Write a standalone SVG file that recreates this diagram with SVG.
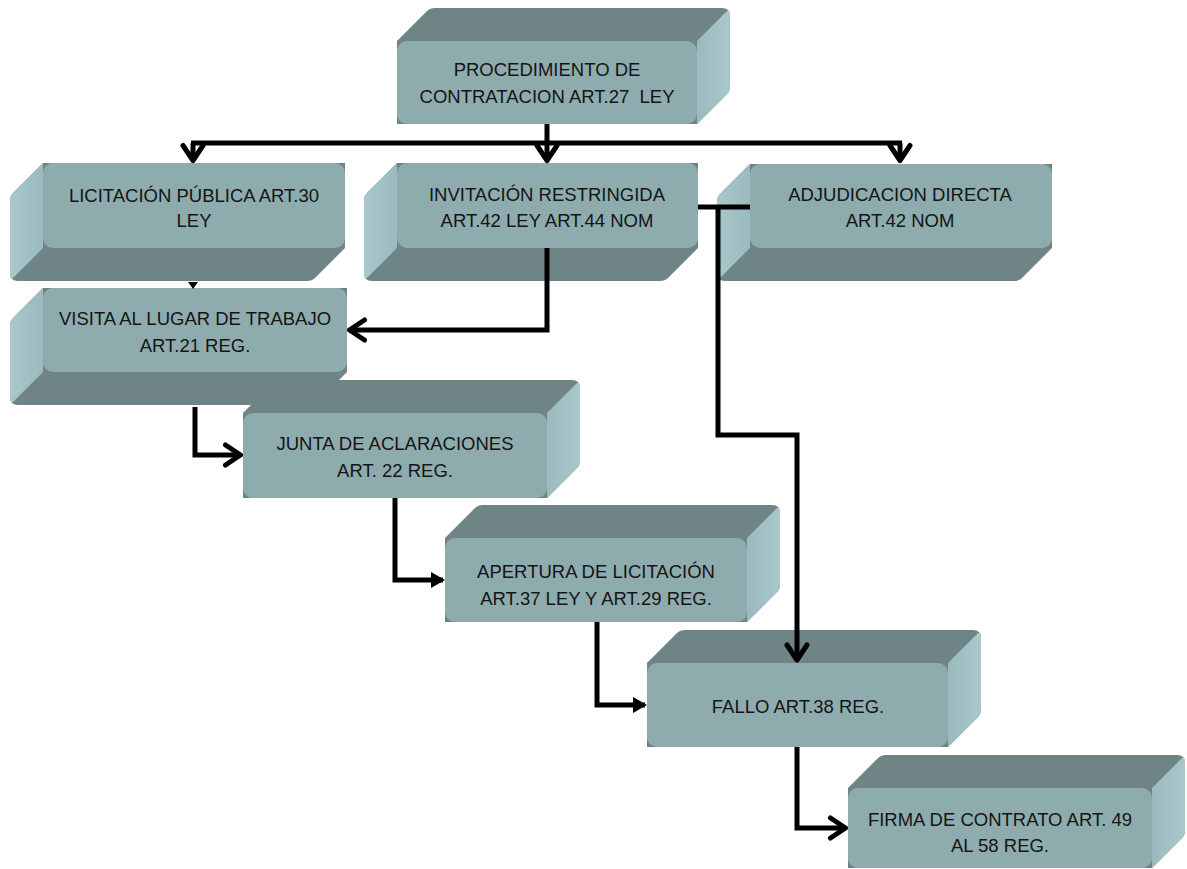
<svg xmlns="http://www.w3.org/2000/svg" width="1187" height="869" viewBox="0 0 1187 869">
<style>
.dk{fill:#6f8485}
.ltr{fill:url(#gR)}
.ltl{fill:url(#gL)}
.fr{fill:#8eacae}
.t{font-family:"Liberation Sans",Arial,sans-serif;font-size:18.5px;fill:#141414;text-anchor:middle}
.c{fill:none;stroke:#000;stroke-width:5;stroke-linejoin:miter}
</style>
<defs>
<linearGradient id="gR" x1="0" y1="0" x2="1" y2="0"><stop offset="0" stop-color="#9bbabd"/><stop offset="1" stop-color="#a9c8cb"/></linearGradient>
<linearGradient id="gL" x1="0" y1="0" x2="1" y2="0"><stop offset="0" stop-color="#a9c8cb"/><stop offset="1" stop-color="#9bbabd"/></linearGradient>
<marker id="chev" viewBox="-22 -14 28 28" refX="0" refY="0" markerWidth="28" markerHeight="28" markerUnits="userSpaceOnUse" orient="auto">
<path d="M-15,-10 L0,0 L-15,10" fill="none" stroke="#000" stroke-width="5" stroke-linecap="round" stroke-linejoin="round"/>
</marker>
<marker id="tri" viewBox="-16 -10 20 20" refX="0" refY="0" markerWidth="20" markerHeight="20" markerUnits="userSpaceOnUse" orient="auto">
<path d="M-12,-8 L2,0 L-12,8 Z" fill="#000"/>
</marker>
</defs>

<g id="n1">
<path class="dk" d="M397,124 L397,41 L427,11 Q430,8 435,8 H722 Q730,8 730,16 V86 Q730,91 727,94 L697,124 Z"/>
<path class="ltr" d="M697,41 L726,12 Q730,8 730,16 V86 Q730,91 727,94 L697,124 Z"/>
<rect class="fr" x="397" y="41" width="300" height="83" rx="10"/>
<text class="t" x="547" y="76">PROCEDIMIENTO DE</text>
<text class="t" x="547" y="103" xml:space="preserve">CONTRATACION ART.27  LEY</text>
</g>

<g id="n2">
<path class="dk" d="M43,163 H345 V248 L315,278 Q312,281 307,281 H18 Q10,281 10,273 V201 Q10,196 13,193 Z"/>
<path class="ltl" d="M43,163 L13,193 Q10,196 10,201 V273 Q10,281 14,277 L43,248 Z"/>
<rect class="fr" x="43" y="163" width="302" height="85" rx="10"/>
<text class="t" x="194" y="202">LICITACIÓN PÚBLICA ART.30</text>
<text class="t" x="194" y="227">LEY</text>
</g>

<g id="n3">
<path class="dk" d="M397,163 H698 V248 L668,278 Q665,281 660,281 H372 Q364,281 364,273 V201 Q364,196 367,193 Z"/>
<path class="ltl" d="M397,163 L367,193 Q364,196 364,201 V273 Q364,281 368,277 L397,248 Z"/>
<rect class="fr" x="397" y="163" width="301" height="85" rx="10"/>
<text class="t" x="547" y="201">INVITACIÓN RESTRINGIDA</text>
<text class="t" x="547" y="227">ART.42 LEY ART.44 NOM</text>
</g>

<g id="n4">
<path class="dk" d="M750,164 H1052 V248 L1022,278 Q1019,281 1014,281 H725 Q717,281 717,273 V202 Q717,197 720,194 Z"/>
<path class="ltl" d="M750,164 L720,194 Q717,197 717,202 V273 Q717,281 721,277 L750,248 Z"/>
<rect class="fr" x="750" y="164" width="302" height="84" rx="10"/>
<text class="t" x="900" y="201">ADJUDICACION DIRECTA</text>
<text class="t" x="900" y="227">ART.42 NOM</text>
</g>

<g id="n5">
<path class="dk" d="M43,288 H347 V372 L317,402 Q314,405 309,405 H18 Q10,405 10,397 V326 Q10,321 13,318 Z"/>
<path class="ltl" d="M43,288 L13,318 Q10,321 10,326 V397 Q10,405 14,401 L43,372 Z"/>
<rect class="fr" x="43" y="288" width="304" height="84" rx="10"/>
<text class="t" x="195" y="325">VISITA AL LUGAR DE TRABAJO</text>
<text class="t" x="195" y="352">ART.21 REG.</text>
</g>

<g id="n6">
<path class="dk" d="M243,498 L243,413 L273,383 Q276,380 281,380 H572 Q580,380 580,388 V460 Q580,465 577,468 L547,498 Z"/>
<path class="ltr" d="M547,413 L576,384 Q580,380 580,388 V460 Q580,465 577,468 L547,498 Z"/>
<rect class="fr" x="243" y="413" width="304" height="85" rx="10"/>
<text class="t" x="395" y="450">JUNTA DE ACLARACIONES</text>
<text class="t" x="395" y="477">ART. 22 REG.</text>
</g>

<g id="n7">
<path class="dk" d="M445,622 L445,538 L475,508 Q478,505 483,505 H772 Q780,505 780,513 V584 Q780,589 777,592 L747,622 Z"/>
<path class="ltr" d="M747,538 L776,509 Q780,505 780,513 V584 Q780,589 777,592 L747,622 Z"/>
<rect class="fr" x="445" y="538" width="302" height="84" rx="10"/>
<text class="t" x="596" y="578">APERTURA DE LICITACIÓN</text>
<text class="t" x="596" y="605">ART.37 LEY Y ART.29 REG.</text>
</g>

<g id="n8">
<path class="dk" d="M647,747 L647,663 L677,633 Q680,630 685,630 H973 Q981,630 981,638 V709 Q981,714 978,717 L948,747 Z"/>
<path class="ltr" d="M948,663 L977,634 Q981,630 981,638 V709 Q981,714 978,717 L948,747 Z"/>
<rect class="fr" x="647" y="663" width="301" height="84" rx="10"/>
<text class="t" x="798" y="713">FALLO ART.38 REG.</text>
</g>

<g id="n9">
<path class="dk" d="M848,868 L848,788 L878,758 Q881,755 886,755 H1177 Q1185,755 1185,763 V830 Q1185,835 1182,838 L1152,868 Z"/>
<path class="ltr" d="M1152,788 L1181,759 Q1185,755 1185,763 V830 Q1185,835 1182,838 L1152,868 Z"/>
<rect class="fr" x="848" y="788" width="304" height="80" rx="10"/>
<text class="t" x="1000" y="826">FIRMA DE CONTRATO ART. 49</text>
<text class="t" x="1000" y="852">AL 58 REG.</text>
</g>

<g id="connectors">
<path class="c" d="M547,124 V143"/>
<path class="c" d="M191,143 H902"/>
<path class="c" d="M193,143 V160.5" marker-end="url(#chev)"/>
<path class="c" d="M547,143 V160.5" marker-end="url(#chev)"/>
<path class="c" d="M900,143 V160.5" marker-end="url(#chev)"/>
<polygon points="188,282 198,282 193,289" fill="#000"/>
<path class="c" d="M547,248 V330 H349.5" marker-end="url(#chev)"/>
<path class="c" d="M698,207 H750"/>
<path class="c" d="M718,207 V435 H797 V660" marker-end="url(#chev)"/>
<path class="c" d="M195,407 V455 H240.5" marker-end="url(#chev)"/>
<path class="c" d="M395,498 V580 H443" marker-end="url(#tri)"/>
<path class="c" d="M597,622 V705 H645" marker-end="url(#tri)"/>
<path class="c" d="M797,747 V828 H845.5" marker-end="url(#chev)"/>
</g>
</svg>
